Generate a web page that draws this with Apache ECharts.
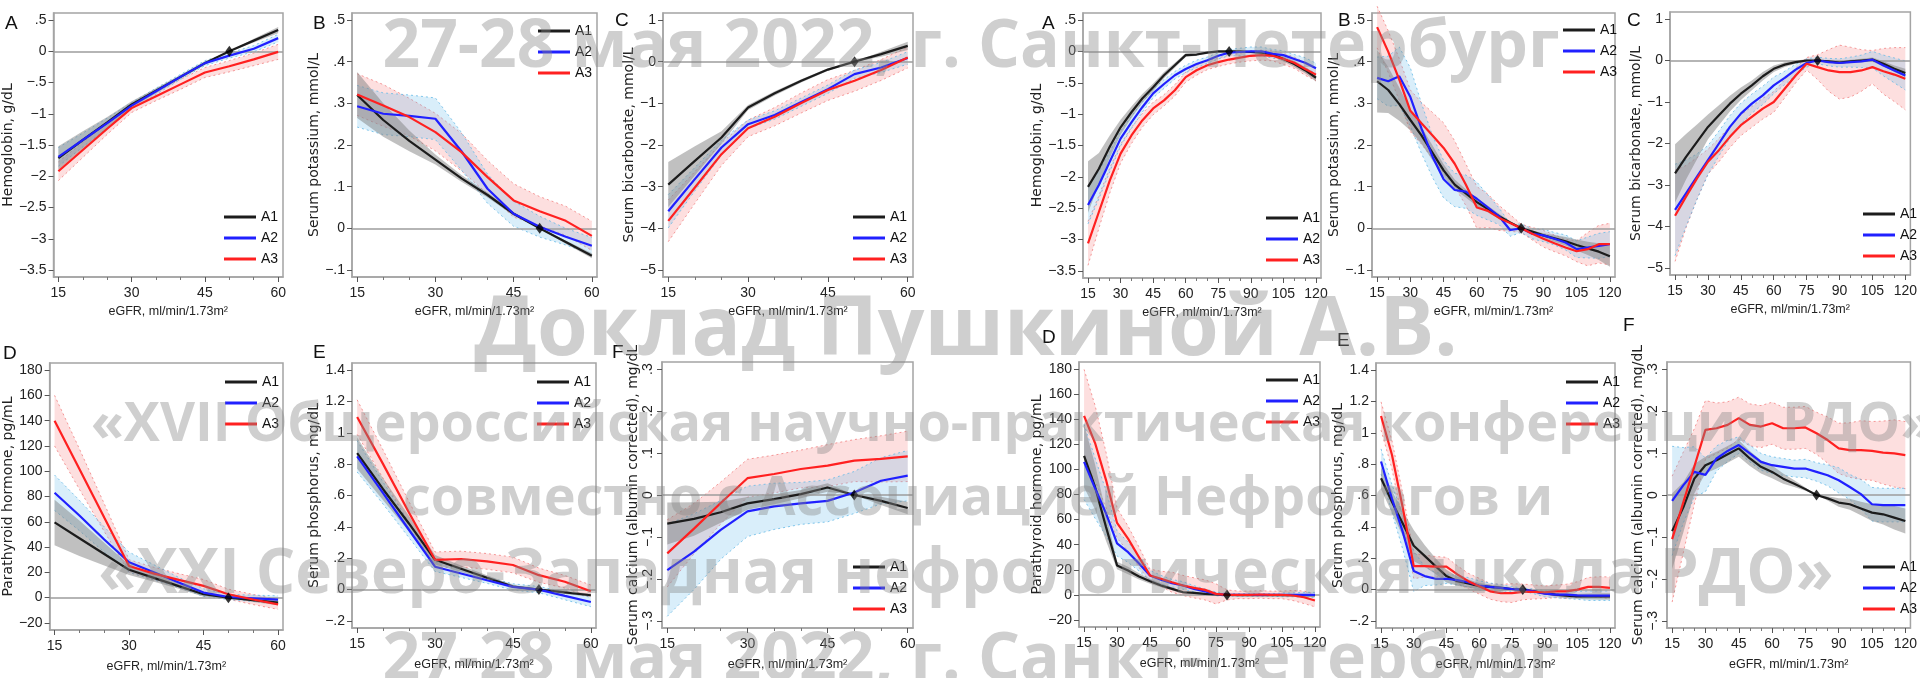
<!DOCTYPE html>
<html><head><meta charset="utf-8">
<script src="https://cdn.jsdelivr.net/npm/echarts@6/dist/echarts.min.js"></script>
<style>html,body{margin:0;padding:0;background:#fff}#c{width:1920px;height:678px}</style>
</head><body><div id="c"></div>
<script>
// ---------- axes / ticks ----------
const xLeft = [15,20,25,30,35,40,45,50,55,60];
const xRight = [15,20,25,30,35,40,45,50,55,60,65,70,75,80,85,90,95,100,105,110,115,120];
const xTicksLeft = [15,30,45,60];
const xTicksRight = [15,30,45,60,75,90,105,120];
const xMinorLeft = [20,25,35,40,50,55];
const xMinorRight = [20,25,35,40,50,55,65,70,80,85,95,100,110,115];
const refLeft = 50, refRight = 80;
const yTicksHgb = [-3.5,-3,-2.5,-2,-1.5,-1,-0.5,0,0.5];
const yTicksK = [-0.1,0,0.1,0.2,0.3,0.4,0.5];
const yTicksBic = [-5,-4,-3,-2,-1,0,1];
const yTicksPth = [-20,0,20,40,60,80,100,120,140,160,180];
const yTicksPhos = [-0.2,0,0.2,0.4,0.6,0.8,1,1.2,1.4];
const yTicksCa = [-0.3,-0.2,-0.1,0,0.1,0.2,0.3];
const seriesNames = ['A1','A2','A3'];
const xTitle = 'eGFR, ml/min/1.73m\u00B2';

// ---------- left set (eGFR 15-60) ----------
const hgbL_A1 = [-1.71,-1.42,-1.14,-0.85,-0.63,-0.41,-0.19,0,0.17,0.34];
const hgbL_A2 = [-1.69,-1.42,-1.15,-0.87,-0.64,-0.41,-0.19,-0.07,0.04,0.21];
const hgbL_A3 = [-1.92,-1.58,-1.24,-0.91,-0.72,-0.53,-0.34,-0.24,-0.13,-0.01];
const hgbL_C1 = [0.19,0.14,0.09,0.05,0.04,0.03,0.03,0,0.03,0.05];
const hgbL_C2 = [0.15,0.11,0.08,0.05,0.05,0.04,0.04,0.04,0.05,0.06];
const hgbL_C3 = [0.15,0.12,0.09,0.07,0.07,0.08,0.08,0.09,0.10,0.12];

const kL_A1 = [0.32,0.26,0.21,0.165,0.12,0.08,0.035,0,-0.033,-0.066];
const kL_A2 = [0.293,0.275,0.27,0.263,0.185,0.095,0.035,0.004,-0.02,-0.042];
const kL_A3 = [0.321,0.295,0.267,0.231,0.183,0.123,0.067,0.041,0.018,-0.018];
const kL_C1 = [0.055,0.04,0.025,0.012,0.008,0.006,0.004,0,0.004,0.006];
const kL_C2 = [0.05,0.05,0.05,0.05,0.045,0.035,0.03,0.025,0.02,0.02];
const kL_C3 = [0.05,0.05,0.045,0.045,0.045,0.04,0.04,0.035,0.035,0.035];

const bicL_A1 = [-2.95,-2.38,-1.82,-1.10,-0.76,-0.46,-0.19,0,0.18,0.38];
const bicL_A2 = [-3.59,-2.82,-2.06,-1.50,-1.28,-0.97,-0.66,-0.30,-0.14,0.09];
const bicL_A3 = [-3.82,-3.02,-2.22,-1.60,-1.32,-0.99,-0.68,-0.46,-0.20,0.10];
const bicL_C1 = [0.54,0.35,0.15,0.06,0.05,0.04,0.03,0,0.06,0.10];
const bicL_C2 = [0.40,0.28,0.18,0.10,0.10,0.10,0.10,0.10,0.12,0.15];
const bicL_C3 = [0.50,0.38,0.27,0.20,0.22,0.24,0.25,0.25,0.25,0.25];

const pthL_A1 = [59.5,47,34.5,22,15.6,9.1,2.7,0,-2,-4];
const pthL_A2 = [83,65,46,28,20,12,4,0.5,-0.5,-1.6];
const pthL_A3 = [140,101.7,63.3,25,19,14,9.3,2.7,-1.5,-5.3];
const pthL_C1 = [18,14,9,4,3,2,2,0,1.5,2];
const pthL_C2 = [14,12,10,8,6,4,3,2,2.5,3];
const pthL_C3 = [20,16,11,5,5,5,5,4,4,4];

const phosL_A1 = [0.87,0.64,0.42,0.19,0.133,0.076,0.02,0,-0.018,-0.036];
const phosL_A2 = [0.85,0.615,0.38,0.146,0.103,0.06,0.017,0,-0.04,-0.079];
const phosL_A3 = [1.10,0.80,0.49,0.19,0.195,0.18,0.157,0.092,0.05,-0.011];
const phosL_C1 = [0.10,0.07,0.05,0.03,0.02,0.015,0.01,0,0.01,0.01];
const phosL_C2 = [0.10,0.07,0.05,0.03,0.025,0.02,0.02,0.02,0.025,0.03];
const phosL_C3 = [0.11,0.09,0.07,0.05,0.05,0.05,0.05,0.045,0.04,0.04];

const caL_A1 = [-0.068,-0.057,-0.041,-0.020,-0.010,0.002,0.018,0,-0.014,-0.031];
const caL_A2 = [-0.179,-0.135,-0.083,-0.039,-0.027,-0.020,-0.014,0.006,0.034,0.046];
const caL_A3 = [-0.139,-0.080,-0.019,0.040,0.050,0.062,0.070,0.082,0.086,0.092];
const caL_C1 = [0.05,0.04,0.025,0.015,0.012,0.01,0.01,0,0.01,0.015];
const caL_C2 = [0.11,0.09,0.07,0.06,0.055,0.05,0.05,0.05,0.055,0.06];
const caL_C3 = [0.08,0.06,0.05,0.045,0.045,0.045,0.05,0.05,0.055,0.06];

// ---------- right set (eGFR 15-120) ----------
const hgbR_A1 = [-2.16,-1.87,-1.52,-1.21,-0.97,-0.75,-0.57,-0.38,-0.22,-0.06,-0.05,-0.02,0,0,0,-0.01,-0.02,-0.05,-0.12,-0.20,-0.30,-0.42];
const hgbR_A2 = [-2.45,-2.13,-1.76,-1.39,-1.13,-0.89,-0.67,-0.52,-0.38,-0.28,-0.20,-0.14,-0.07,-0.02,-0.01,0,0,-0.04,-0.06,-0.12,-0.18,-0.27];
const hgbR_A3 = [-3.06,-2.56,-2.06,-1.63,-1.34,-1.10,-0.91,-0.78,-0.62,-0.41,-0.30,-0.22,-0.17,-0.13,-0.10,-0.07,-0.06,-0.07,-0.12,-0.18,-0.28,-0.37];
const hgbR_C1 = [0.41,0.25,0.18,0.12,0.09,0.07,0.06,0.05,0.04,0.03,0.02,0.01,0.01,0,0.01,0.01,0.02,0.03,0.04,0.05,0.05,0.06];
const hgbR_C2 = [0.30,0.22,0.16,0.12,0.10,0.08,0.07,0.07,0.06,0.06,0.06,0.05,0.05,0.05,0.06,0.07,0.07,0.07,0.07,0.07,0.08,0.08];
const hgbR_C3 = [0.35,0.26,0.20,0.15,0.13,0.11,0.10,0.09,0.09,0.08,0.08,0.07,0.07,0.07,0.07,0.08,0.08,0.08,0.09,0.09,0.10,0.10];

const kR_A1 = [0.353,0.332,0.298,0.26,0.223,0.181,0.139,0.105,0.084,0.063,0.046,0.029,0.014,0,-0.008,-0.017,-0.024,-0.031,-0.040,-0.048,-0.056,-0.067];
const kR_A2 = [0.361,0.353,0.365,0.315,0.24,0.172,0.118,0.092,0.088,0.071,0.05,0.029,-0.004,0,-0.013,-0.017,-0.025,-0.034,-0.050,-0.046,-0.042,-0.038];
const kR_A3 = [0.483,0.424,0.357,0.282,0.252,0.223,0.193,0.155,0.105,0.050,0.042,0.025,0.013,0,-0.013,-0.025,-0.036,-0.046,-0.055,-0.050,-0.038,-0.038];
const kR_C1 = [0.075,0.055,0.04,0.025,0.02,0.018,0.015,0.012,0.01,0.01,0.008,0.006,0.003,0,0.003,0.005,0.008,0.01,0.013,0.016,0.02,0.025];
const kR_C2 = [0.05,0.06,0.07,0.07,0.06,0.05,0.045,0.04,0.04,0.04,0.03,0.02,0.015,0.01,0.012,0.015,0.015,0.018,0.02,0.025,0.03,0.03];
const kR_C3 = [0.05,0.05,0.05,0.05,0.05,0.055,0.06,0.055,0.05,0.05,0.04,0.03,0.02,0.01,0.015,0.02,0.02,0.02,0.025,0.04,0.045,0.05];

const bicR_A1 = [-2.72,-2.32,-1.96,-1.60,-1.32,-1.04,-0.80,-0.60,-0.38,-0.20,-0.10,-0.04,0,0,-0.02,-0.05,-0.02,0,0.02,-0.08,-0.20,-0.30];
const bicR_A2 = [-3.60,-3.20,-2.80,-2.40,-2.00,-1.60,-1.28,-1.04,-0.84,-0.60,-0.42,-0.22,-0.06,0,-0.04,-0.06,-0.04,-0.02,0.02,-0.12,-0.24,-0.36];
const bicR_A3 = [-3.74,-3.28,-2.84,-2.44,-2.16,-1.84,-1.56,-1.36,-1.16,-1.00,-0.68,-0.36,-0.08,-0.16,-0.24,-0.28,-0.28,-0.24,-0.16,-0.26,-0.34,-0.44];
const bicR_C1 = [0.70,0.55,0.42,0.30,0.24,0.19,0.15,0.12,0.10,0.08,0.06,0.04,0.03,0,0.02,0.03,0.04,0.04,0.05,0.06,0.08,0.10];
const bicR_C2 = [1.10,0.80,0.55,0.35,0.30,0.27,0.25,0.23,0.22,0.20,0.16,0.13,0.10,0.08,0.09,0.10,0.12,0.15,0.20,0.25,0.30,0.35];
const bicR_C3 = [1.10,0.75,0.50,0.30,0.28,0.26,0.25,0.25,0.25,0.25,0.22,0.18,0.15,0.30,0.50,0.65,0.60,0.50,0.40,0.55,0.65,0.75];

const pthR_A1 = [110.7,86,54,23.5,19.5,14.7,10.9,7.5,4.8,2.1,1.6,0.8,0.3,0,-0.2,-0.3,-0.3,-0.3,-0.2,-0.2,-0.2,-0.2];
const pthR_A2 = [106,85,65,41,34,25,15.5,12,9.3,7.5,4.8,2.7,0.8,0,0,0,0,0,0,0,0,0];
const pthR_A3 = [142.7,121,91.5,57.3,44.8,30,15.5,12.8,10.1,7.5,5.6,4,0.8,0,0,0,0.3,0,0,-0.5,-1.9,-4.5];
const pthR_C1 = [25,18,11,3,3,2.5,2,1.5,1.2,1,0.8,0.5,0.3,0,0.3,0.5,0.5,0.6,0.7,0.8,0.9,1];
const pthR_C2 = [30,24,18,10,8,6,4,3.5,3,3,2.5,2,1.5,1,1,1,1,1,1.5,1.5,2,2];
const pthR_C3 = [37,30,22,12,10,8,5,6,8,8,8,8,8,4,3,3,3,3,3,4,5,5];

const phosR_A1 = [0.71,0.56,0.42,0.28,0.215,0.15,0.086,0.054,0.039,0.022,0.017,0.011,0.004,0,-0.011,-0.022,-0.032,-0.039,-0.043,-0.043,-0.043,-0.043];
const phosR_A2 = [0.817,0.58,0.366,0.118,0.086,0.069,0.069,0.06,0.047,0.026,0.017,0.011,0.004,0,-0.011,-0.026,-0.032,-0.032,-0.037,-0.039,-0.039,-0.039];
const phosR_A3 = [1.107,0.86,0.52,0.15,0.15,0.146,0.146,0.097,0.054,0.022,-0.011,-0.022,-0.022,-0.015,-0.015,-0.017,-0.011,-0.011,0,0.017,0.017,0.011];
const phosR_C1 = [0.07,0.07,0.08,0.10,0.07,0.05,0.04,0.03,0.025,0.02,0.015,0.01,0.005,0,0.005,0.01,0.012,0.015,0.015,0.018,0.02,0.02];
const phosR_C2 = [0.08,0.09,0.11,0.13,0.06,0.04,0.03,0.03,0.03,0.03,0.025,0.02,0.015,0.01,0.015,0.02,0.02,0.025,0.025,0.03,0.03,0.03];
const phosR_C3 = [0.09,0.09,0.09,0.08,0.07,0.065,0.06,0.055,0.05,0.05,0.05,0.055,0.06,0.05,0.045,0.04,0.04,0.045,0.05,0.06,0.065,0.07];

const caR_A1 = [-0.086,-0.030,0.039,0.071,0.083,0.097,0.111,0.087,0.067,0.055,0.039,0.027,0.014,0,-0.008,-0.018,-0.022,-0.032,-0.042,-0.046,-0.054,-0.062];
const caR_A2 = [-0.014,0.023,0.055,0.048,0.087,0.105,0.119,0.099,0.079,0.071,0.067,0.063,0.063,0.055,0.047,0.035,0.019,0.002,-0.022,-0.024,-0.024,-0.024];
const caR_A3 = [-0.105,-0.018,0.068,0.155,0.159,0.167,0.183,0.167,0.163,0.171,0.159,0.159,0.161,0.147,0.131,0.111,0.107,0.107,0.105,0.101,0.099,0.095];
const caR_C1 = [0.09,0.06,0.035,0.02,0.02,0.02,0.02,0.018,0.016,0.015,0.012,0.008,0.004,0,0.005,0.01,0.013,0.016,0.02,0.024,0.028,0.03];
const caR_C2 = [0.13,0.09,0.06,0.04,0.03,0.025,0.02,0.02,0.02,0.02,0.02,0.02,0.022,0.022,0.025,0.03,0.03,0.035,0.04,0.04,0.04,0.04];
const caR_C3 = [0.15,0.12,0.09,0.07,0.06,0.055,0.05,0.05,0.05,0.05,0.05,0.05,0.05,0.05,0.055,0.06,0.065,0.07,0.07,0.075,0.08,0.08];

// ---------- watermark text ----------
const watermarkLines = [
  '27-28 мая 2022, г. Санкт-Петербург',
  'Доклад Пушкиной А.В.',
  '«XVII Общероссийская научно-практическая конференция РДО»',
  'совместно с Ассоциацией Нефрологов и',
  '«XXI Северо-Западная нефрологическая школа РДО»',
  '27-28 мая 2022, г. Санкт-Петербург'
];

// ---------- panel definitions ----------
const panels = [
  {letter:'A', ytitle:'Hemoglobin, g/dL', xs:xLeft, xt:xTicksLeft, xm:xMinorLeft, ref:refLeft, yt:yTicksHgb, v:[hgbL_A1,hgbL_A2,hgbL_A3], c:[hgbL_C1,hgbL_C2,hgbL_C3]},
  {letter:'B', ytitle:'Serum potassium, mmol/L', xs:xLeft, xt:xTicksLeft, xm:xMinorLeft, ref:refLeft, yt:yTicksK, v:[kL_A1,kL_A2,kL_A3], c:[kL_C1,kL_C2,kL_C3]},
  {letter:'C', ytitle:'Serum bicarbonate, mmol/L', xs:xLeft, xt:xTicksLeft, xm:xMinorLeft, ref:refLeft, yt:yTicksBic, v:[bicL_A1,bicL_A2,bicL_A3], c:[bicL_C1,bicL_C2,bicL_C3]},
  {letter:'A', ytitle:'Hemoglobin, g/dL', xs:xRight, xt:xTicksRight, xm:xMinorRight, ref:refRight, yt:yTicksHgb, v:[hgbR_A1,hgbR_A2,hgbR_A3], c:[hgbR_C1,hgbR_C2,hgbR_C3]},
  {letter:'B', ytitle:'Serum potassium, mmol/L', xs:xRight, xt:xTicksRight, xm:xMinorRight, ref:refRight, yt:yTicksK, v:[kR_A1,kR_A2,kR_A3], c:[kR_C1,kR_C2,kR_C3]},
  {letter:'C', ytitle:'Serum bicarbonate, mmol/L', xs:xRight, xt:xTicksRight, xm:xMinorRight, ref:refRight, yt:yTicksBic, v:[bicR_A1,bicR_A2,bicR_A3], c:[bicR_C1,bicR_C2,bicR_C3]},
  {letter:'D', ytitle:'Parathyroid hormone, pg/mL', xs:xLeft, xt:xTicksLeft, xm:xMinorLeft, ref:refLeft, yt:yTicksPth, v:[pthL_A1,pthL_A2,pthL_A3], c:[pthL_C1,pthL_C2,pthL_C3]},
  {letter:'E', ytitle:'Serum phosphorus, mg/dL', xs:xLeft, xt:xTicksLeft, xm:xMinorLeft, ref:refLeft, yt:yTicksPhos, v:[phosL_A1,phosL_A2,phosL_A3], c:[phosL_C1,phosL_C2,phosL_C3]},
  {letter:'F', ytitle:'Serum calcium (albumin corrected), mg/dL', xs:xLeft, xt:xTicksLeft, xm:xMinorLeft, ref:refLeft, yt:yTicksCa, rot:true, v:[caL_A1,caL_A2,caL_A3], c:[caL_C1,caL_C2,caL_C3]},
  {letter:'D', ytitle:'Parathyroid hormone, pg/mL', xs:xRight, xt:xTicksRight, xm:xMinorRight, ref:refRight, yt:yTicksPth, v:[pthR_A1,pthR_A2,pthR_A3], c:[pthR_C1,pthR_C2,pthR_C3]},
  {letter:'E', ytitle:'Serum phosphorus, mg/dL', xs:xRight, xt:xTicksRight, xm:xMinorRight, ref:refRight, yt:yTicksPhos, v:[phosR_A1,phosR_A2,phosR_A3], c:[phosR_C1,phosR_C2,phosR_C3]},
  {letter:'F', ytitle:'Serum calcium (albumin corrected), mg/dL', xs:xRight, xt:xTicksRight, xm:xMinorRight, ref:refRight, yt:yTicksCa, rot:true, v:[caR_A1,caR_A2,caR_A3], c:[caR_C1,caR_C2,caR_C3]}
];

// layout: plot box, y-title gap, legend position, letter position
const layout = [
  {L:46,R:283,T:13,B:277,ng:29,lg:[224,210],lt:[5,14]},
  {L:352,R:597,T:13,B:277,ng:24,lg:[538,24],lt:[313,14]},
  {L:663,R:913,T:13,B:277,ng:20,lg:[853,210],lt:[615,11]},
  {L:1083,R:1321,T:13,B:278,ng:27,lg:[1266,211],lt:[1042,14]},
  {L:1372,R:1615,T:13,B:277,ng:22,lg:[1563,23],lt:[1338,11]},
  {L:1670,R:1915,T:12,B:275,ng:17,lg:[1863,207],lt:[1627,11]},
  {L:44,R:283,T:363,B:630,ng:27,lg:[225,375],lt:[3,344]},
  {L:352,R:596,T:363,B:628,ng:26,lg:[537,375],lt:[313,343]},
  {L:662,R:913,T:362,B:628,ng:19,lg:[853,560],lt:[612,343]},
  {L:1079,R:1320,T:362,B:627,ng:24,lg:[1266,373],lt:[1042,328]},
  {L:1376,R:1615,T:363,B:628,ng:23,lg:[1566,375],lt:[1337,331]},
  {L:1667,R:1915,T:362,B:628,ng:14,lg:[1863,560],lt:[1623,316]}
];
const watermarkLayout = [
  {x:971,y:48,size:66},{x:966,y:332,size:82},{x:1012,y:426,size:54},
  {x:978,y:500,size:54},{x:966,y:575,size:62},{x:971,y:661,size:66}
];

const lineColors = ['#1c1c1c','#2020ff','#ff2020'];
const bandFill = ['rgba(130,130,130,0.5)','rgba(110,190,235,0.26)','rgba(245,120,120,0.24)'];
const bandEdge = [null,'rgba(100,185,230,0.8)','rgba(240,120,120,0.75)'];
const FONT = '"Liberation Sans", Arial, sans-serif';

function stata(v){
  let s = String(+(+v).toFixed(4));
  const neg = s[0] === '-';
  if (neg) s = s.slice(1);
  if (s.startsWith('0.')) s = s.slice(1);
  return (neg ? '\u2212' : '') + s;
}

const option = {animation:false, backgroundColor:'#fff', grid:[], xAxis:[], yAxis:[], series:[], legend:[], graphic:[]};

panels.forEach((p, i) => {
  const g = layout[i];
  const top = i < 6;
  option.grid.push({left:g.L, top:g.T, width:g.R-g.L, height:g.B-g.T, show:true, borderColor:'#a4a4a4', borderWidth:1.5, containLabel:false});
  const x0 = p.xt[0], x1 = p.xt[p.xt.length-1], dx = (x1-x0)*0.022;
  const y0 = p.yt[0], y1 = p.yt[p.yt.length-1], dy = (y1-y0)*0.028;
  const xmin = x0-dx, xmax = x1+dx;
  option.xAxis.push({
    type:'value', gridIndex:i, min:xmin, max:xmax, position:'bottom',
    name:xTitle, nameLocation:'middle', nameGap: top ? 28 : 30,
    nameTextStyle:{fontFamily:FONT, fontSize:12.5, color:'#222'},
    axisLine:{show:true, onZero:false, lineStyle:{color:'#a4a4a4', width:1.5}},
    axisTick:{show:true, length:5, customValues:p.xt, lineStyle:{color:'#555'}},
    axisLabel:{customValues:p.xt, margin:9, fontFamily:FONT, fontSize:14, color:'#222', formatter:v=>String(v)},
    splitLine:{show:false}
  });
  option.xAxis.push({
    type:'value', gridIndex:i, min:xmin, max:xmax, position:'bottom',
    axisLine:{show:false, onZero:false}, axisLabel:{show:false}, splitLine:{show:false},
    axisTick:{show:true, length:3, customValues:p.xm, lineStyle:{color:'#777'}}
  });
  option.yAxis.push({
    type:'value', gridIndex:i, min:y0-dy, max:y1+dy, position:'left',
    name:p.ytitle, nameLocation:'middle', nameGap:g.ng,
    nameTextStyle:{fontFamily:'"DejaVu Sans", sans-serif', fontSize:14, color:'#222'},
    axisLine:{show:true, onZero:false, lineStyle:{color:'#a4a4a4', width:1.5}},
    axisTick:{show:true, length:5, customValues:p.yt, lineStyle:{color:'#555'}},
    axisLabel:{customValues:p.yt, margin:7, rotate:p.rot ? 90 : 0, fontFamily:FONT, fontSize:14, color:'#222', formatter:v=>stata(v)},
    splitLine:{show:false}
  });
  const xi = i*2, yi = i;
  // CI bands (A3, A2, A1 order)
  [2,1,0].forEach(k => {
    const xs = p.xs, mid = p.v[k], hw = p.c[k];
    option.series.push({
      type:'custom', name:'CI '+seriesNames[k], xAxisIndex:xi, yAxisIndex:yi, silent:true, z:1,
      data: xs.map((x,j)=>[x, mid[j]-hw[j], mid[j]+hw[j]]),
      renderItem: function(params, api){
        if (params.dataIndex !== 0) return null;
        const up = xs.map((x,j)=>api.coord([x, mid[j]+hw[j]]));
        const lo = xs.map((x,j)=>api.coord([x, mid[j]-hw[j]]));
        const children = [{type:'polygon', shape:{points: up.concat(lo.slice().reverse())}, style:{fill:bandFill[k], stroke:null}}];
        if (bandEdge[k]) {
          children.push({type:'polyline', shape:{points:up}, style:{fill:null, stroke:bandEdge[k], lineWidth:1, lineDash:[2,3]}});
          children.push({type:'polyline', shape:{points:lo}, style:{fill:null, stroke:bandEdge[k], lineWidth:1, lineDash:[2,3]}});
        }
        return {type:'group', children};
      }
    });
  });
  // lines
  [0,1,2].forEach(k => {
    const s = {
      type:'line', name:seriesNames[k], xAxisIndex:xi, yAxisIndex:yi, z:3,
      data:p.xs.map((x,j)=>[x, p.v[k][j]]), symbol:'none', silent:true,
      color:lineColors[k], itemStyle:{color:lineColors[k]},
      lineStyle:{color:lineColors[k], width:2.2}
    };
    if (k === 0) {
      s.markLine = {silent:true, symbol:'none', z:2, label:{show:false},
        lineStyle:{color:'#9c9c9c', width:1.5, type:'solid'}, data:[{yAxis:0}]};
    }
    option.series.push(s);
  });
  // reference point
  option.series.push({type:'scatter', name:'ref', xAxisIndex:xi, yAxisIndex:yi, z:5, silent:true,
    symbol:'diamond', symbolSize:[8,11], itemStyle:{color:'#000'}, data:[[p.ref, 0]]});
  // legend
  option.legend.push({
    left:g.lg[0], top:g.lg[1], orient:'vertical', padding:0, itemGap:7,
    itemWidth:32, itemHeight:3, icon:'rect', selectedMode:false,
    textStyle:{fontFamily:FONT, fontSize:14, color:'#111', lineHeight:14},
    data:seriesNames.slice()
  });
  // panel letter
  option.graphic.push({type:'text', left:g.lt[0], top:g.lt[1], silent:true,
    style:{text:p.letter, font:'19px ' + FONT, fill:'#111'}});
});

watermarkLines.forEach((t, i) => {
  const w = watermarkLayout[i];
  option.graphic.push({type:'text', x:w.x, y:w.y, z:100, silent:true,
    style:{text:t, font:'bold ' + w.size + 'px "Open Sans", sans-serif',
      fill:'rgba(135,135,135,0.4)', align:'center', verticalAlign:'middle'}});
});

const chart = echarts.init(document.getElementById('c'), null, {renderer:'canvas'});
chart.setOption(option);
</script>
</body></html>
